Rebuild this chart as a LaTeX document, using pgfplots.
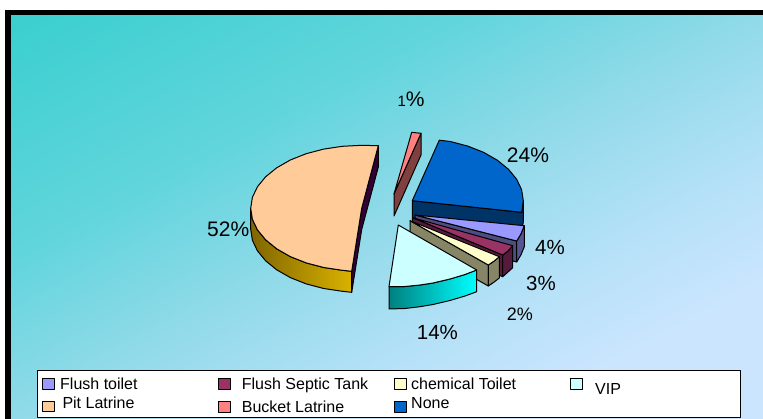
\documentclass[border=0pt]{standalone}
\usepackage{fontspec}
\setmainfont{Liberation Sans}
\usepackage{pgfplots}
\pgfplotsset{compat=1.18}
\definecolor{bgA}{RGB}{58,207,207}
\definecolor{bgC}{RGB}{97,213,220}
\definecolor{bgD}{RGB}{145,218,233}
\definecolor{bgE}{RGB}{180,225,247}
\definecolor{bgB}{RGB}{204,229,255}
\pgfdeclareverticalshading{bgdiag}{100bp}{color(0bp)=(bgB); color(37.93bp)=(bgB); color(43.61bp)=(bgE); color(50bp)=(bgD); color(57.1bp)=(bgC); color(67.75bp)=(bgA); color(100bp)=(bgA)}
\definecolor{pitTop}{RGB}{255,204,153}
\definecolor{pitL}{RGB}{128,102,0}
\definecolor{pitR}{RGB}{218,178,0}
\definecolor{pitIn}{RGB}{51,0,51}
\definecolor{buckTop}{RGB}{255,128,128}
\definecolor{buckWall}{RGB}{128,64,64}
\definecolor{noneTop}{RGB}{0,102,204}
\definecolor{noneWall}{RGB}{0,51,102}
\definecolor{flushTop}{RGB}{153,153,255}
\definecolor{flushFront}{RGB}{77,77,128}
\definecolor{flushOut}{RGB}{85,85,145}
\definecolor{septTop}{RGB}{153,51,102}
\definecolor{septWall}{RGB}{85,26,60}
\definecolor{chemTop}{RGB}{255,255,204}
\definecolor{chemWall}{RGB}{134,134,102}
\definecolor{vipTop}{RGB}{204,255,255}
\definecolor{vipL}{RGB}{0,128,128}
\definecolor{vipR}{RGB}{0,255,255}
\newcommand{\lab}[4]{\node[anchor=base west,inner sep=0pt,font=\fontsize{#3}{#3}\selectfont] at (axis cs:#1,#2) {#4};}
\begin{document}
\begin{tikzpicture}
\begin{axis}[scale only axis, width=763pt, height=419pt,
  xmin=0, xmax=763, ymin=0, ymax=419, y dir=reverse,
  axis lines=none, no markers, line join=round,
  every axis plot/.append style={draw=black, line width=1pt}]

% background and the black corner frame
\fill[white] (axis cs:0,0) rectangle (axis cs:763,419);
\fill[black] (axis cs:5,10) rectangle (axis cs:763,419);
\begin{scope}
\clip (axis cs:11,16) rectangle (axis cs:763,419);
\shade[overlay, shading=bgdiag, shading angle=28.2] (axis cs:-113,-282.5) rectangle (axis cs:887,717.5);
\end{scope}

% Bucket Latrine 1%
\addplot[fill=buckWall] coordinates {(421,133.3)(421,155)(394,216)(394,194)} --cycle;
\addplot[fill=buckTop] coordinates {(394,194)(411.7,132.3)(421,133.3)} --cycle;

% None 24%
\addplot[fill=noneWall] coordinates {(412.3,200.7)(521.7,212.3)(523.3,200.7)(523.3,221.7)(521.7,233.3)(412.3,221.7)} --cycle;
\addplot[fill=noneTop] coordinates {(412.3,200.7)(439.3,140.2)(450.3,141.5)(467.8,146.1)(483.7,152.4)(497.3,160.2)(508.4,169.2)(516.6,179.2)(521.6,189.7)(523.3,200.7)(521.7,212.3)} --cycle;

% Flush toilet 4%
\addplot[fill=flushFront] coordinates {(415,215)(516.7,241)(516.7,262)(415,236)} --cycle;
\addplot[fill=flushOut] coordinates {(524.3,225.7)(520.9,234)(516.7,241)(516.7,262)(520.9,255)(524.3,246.7)} --cycle;
\addplot[fill=flushTop] coordinates {(415,215)(524.3,225.7)(520.9,234)(516.7,241)} --cycle;

% Flush Septic Tank 3%
\addplot[fill=septWall] coordinates {(412.7,217.7)(502.7,255)(502.7,276.7)(412.7,239)} --cycle;
\addplot[fill=septWall] coordinates {(512.7,245.7)(508,251)(502.7,255)(502.7,276.7)(508,272)(512.7,267.7)} --cycle;
\addplot[fill=septTop] coordinates {(412.7,217.7)(512.7,245.7)(508,251)(502.7,255)} --cycle;

% chemical Toilet 2%
\addplot[fill=chemWall] coordinates {(410,220.7)(488.3,265)(488.3,286)(410,241.7)} --cycle;
\addplot[fill=chemWall] coordinates {(499.3,256.7)(494.2,261)(488.3,265)(488.3,286)(494.2,282)(499.3,278)} --cycle;
\addplot[fill=chemTop] coordinates {(410,220.7)(499.3,256.7)(494.2,261)(488.3,265)} --cycle;

% VIP 14%
\addplot[left color=vipL, right color=vipR] coordinates {(389,286.7)(405,286.5)(420,285)(433,283)(450,279)(465,274.5)(476.7,270)(476.7,291.7)(465,296)(450,300.5)(433,304.5)(420,306.7)(405,308.5)(389,309)} --cycle;
\addplot[fill=vipTop] coordinates {(398.3,225)(476.7,270)(465,274.5)(450,279)(433,283)(420,285)(405,286.5)(389,286.7)} --cycle;

% Pit Latrine 52%
\addplot[left color=pitL, right color=pitR] coordinates {(250.7,208.3)(252.4,219.3)(257.4,229.8)(265.6,239.8)(276.7,248.8)(290.3,256.6)(306.2,262.9)(323.7,267.5)(342.4,270.3)(351.7,271.3)(351.7,292.3)(342.4,291.3)(323.7,288.5)(306.2,283.9)(290.3,277.6)(276.7,269.8)(265.6,260.8)(257.4,250.8)(252.4,240.3)(250.7,229.3)} --cycle;
\addplot[fill=pitIn] coordinates {(378.3,145.7)(378.3,167)(361.7,229.5)(351.7,292.3)(351.7,271.3)(361.7,208.3)} --cycle;
\addplot[fill=pitTop] coordinates {(378.3,145.7)(361.7,145.3)(342.4,146.3)(323.7,149.1)(306.2,153.7)(290.3,160)(276.7,167.8)(265.6,176.8)(257.4,186.8)(252.4,197.3)(250.7,208.3)(252.4,219.3)(257.4,229.8)(265.6,239.8)(276.7,248.8)(290.3,256.6)(306.2,262.9)(323.7,267.5)(342.4,270.3)(351.7,271.3)(361.7,208.3)} --cycle;

% percentage labels
\lab{506.7}{162.7}{21}{24\%}
\node[anchor=base west,inner sep=0pt] at (axis cs:397.3,106.7) {\fontsize{15}{15}\selectfont 1\fontsize{21}{21}\selectfont\%};
\lab{535}{255}{20.5}{4\%}
\lab{526}{291}{20.5}{3\%}
\lab{506.7}{320.7}{18}{2\%}
\lab{416.7}{339.3}{20.5}{14\%}
\lab{207}{236.7}{21}{52\%}

% legend box
\addplot[fill=white, mark=none] coordinates {(37.3,371)(740.7,371)(740.7,417.3)(37.3,417.3)} --cycle;
\addplot[fill=flushTop] coordinates {(42.7,379)(54.3,379)(54.3,389.3)(42.7,389.3)} --cycle;
\addplot[fill=pitTop] coordinates {(42.7,401.7)(54.3,401.7)(54.3,411.7)(42.7,411.7)} --cycle;
\addplot[fill=septTop] coordinates {(218.3,379)(230.7,379)(230.7,389.3)(218.3,389.3)} --cycle;
\addplot[fill=buckTop] coordinates {(218.3,401.7)(230.7,401.7)(230.7,412.3)(218.3,412.3)} --cycle;
\addplot[fill=chemTop] coordinates {(394.7,379)(406.7,379)(406.7,389.3)(394.7,389.3)} --cycle;
\addplot[fill=noneTop] coordinates {(394.7,401.7)(406.7,401.7)(406.7,412.3)(394.7,412.3)} --cycle;
\addplot[fill=vipTop] coordinates {(570,379)(582,379)(582,389.3)(570,389.3)} --cycle;
\lab{60}{390}{16}{Flush toilet}
\lab{62.3}{408.3}{16}{Pit Latrine}
\lab{241.7}{390}{16}{Flush Septic Tank}
\lab{241.7}{413}{16}{Bucket Latrine}
\lab{411}{390}{16}{chemical Toilet}
\lab{411}{408.3}{16}{None}
\lab{595}{395}{16}{VIP}
\end{axis}
\end{tikzpicture}
\end{document}
